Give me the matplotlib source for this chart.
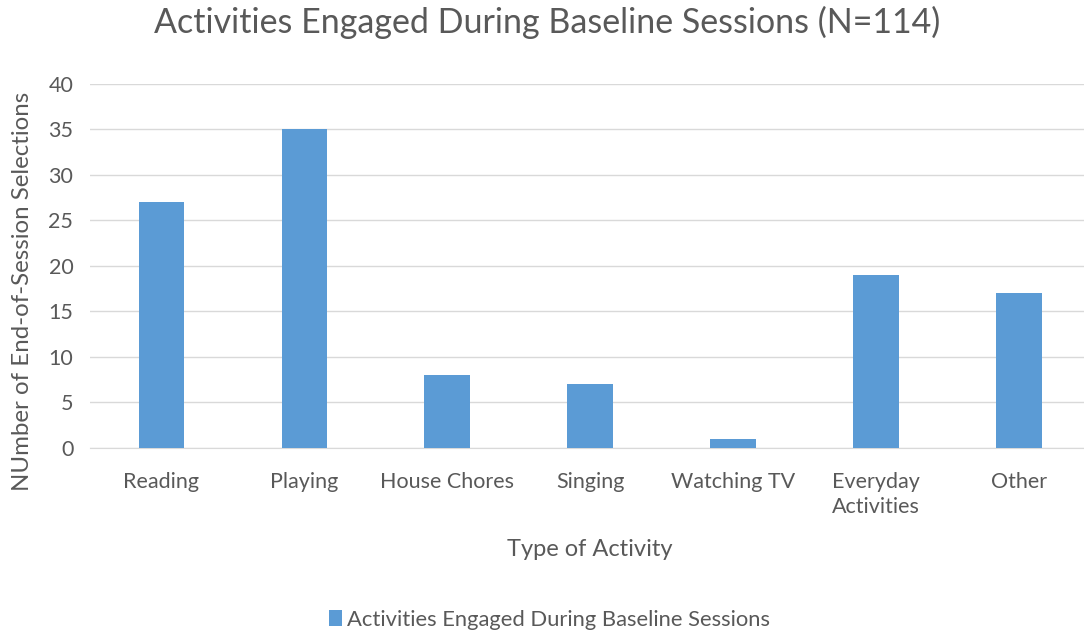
import matplotlib
matplotlib.use("Agg")
import matplotlib.pyplot as plt
from matplotlib.patches import Patch

categories = ['Reading', 'Playing', 'House Chores', 'Singing', 'Watching TV',
              'Everyday\nActivities', 'Other']
counts = [27, 35, 8, 7, 1, 19, 17]
series_name = 'Activities Engaged During Baseline Sessions'

plt.rcParams['font.family'] = ['Lato', 'DejaVu Sans']
text_color = '#595959'
bar_color = '#5B9BD5'

fig = plt.figure(figsize=(10.84, 6.31), dpi=100)
ax = fig.add_axes([0.083, 0.290, 0.923, 0.577])

x = range(len(categories))
ax.bar(x, counts, width=0.32, color=bar_color, zorder=3)

ax.set_xlim(-0.5, len(categories) - 0.5)
ax.set_ylim(0, 40)
ax.set_yticks(range(0, 41, 5))
ax.set_xticks(list(x))
ax.set_xticklabels(categories, fontsize=15.5, color=text_color, linespacing=1.35)
ax.tick_params(axis='y', labelsize=15.5, labelcolor=text_color, length=0, pad=12)
ax.tick_params(axis='x', length=0, pad=17)
ax.grid(axis='y', color='#D9D9D9', linewidth=1, zorder=0)
for side in ['top', 'right', 'left']:
    ax.spines[side].set_visible(False)
ax.spines['bottom'].set_color('#D9D9D9')

ax.set_xlabel('Type of Activity', fontsize=17, color=text_color, labelpad=16)
ax.set_ylabel('NUmber of End-of-Session Selections', fontsize=17.3,
              color=text_color)
ax.yaxis.set_label_coords(-0.057, 0.43)
fig.suptitle('Activities Engaged During Baseline Sessions (N=114)',
             fontsize=24.5, color=text_color, x=0.505, y=0.99)

handle = Patch(facecolor=bar_color, edgecolor='none')
fig.legend([handle], [series_name], loc='center', bbox_to_anchor=(0.507, 0.018),
           frameon=False, fontsize=15.8, labelcolor=text_color,
           handlelength=0.6, handleheight=0.75, handletextpad=0.2)

fig.savefig('out.png', dpi=100)
